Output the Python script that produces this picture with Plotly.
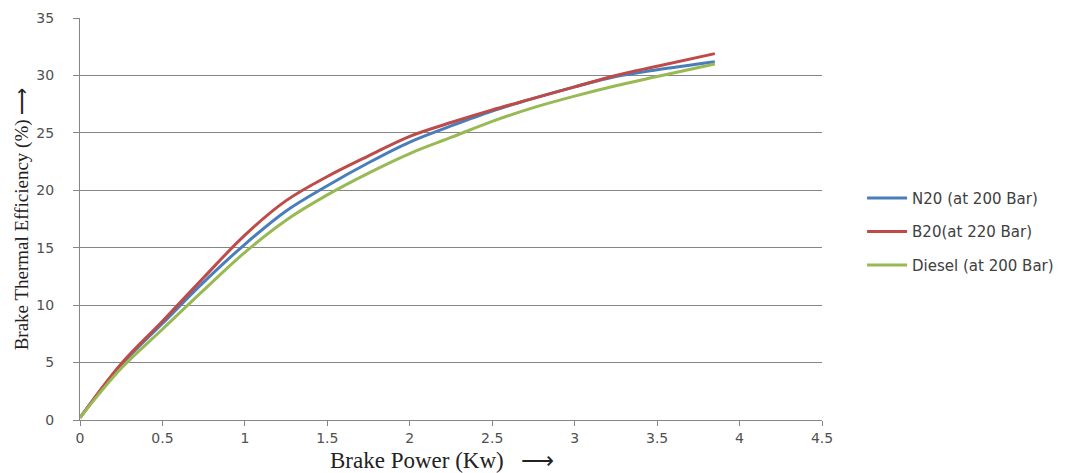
import plotly.graph_objects as go

x_vals = [0, 0.25, 0.5, 0.75, 1.0, 1.25, 1.5, 1.75, 2.0, 2.25, 2.5, 2.75, 3.0, 3.25, 3.5, 3.85]
n20 = [0.2, 4.8, 8.4, 12.0, 15.3, 18.2, 20.4, 22.4, 24.2, 25.6, 26.9, 28.0, 29.0, 29.9, 30.5, 31.2]
b20 = [0.2, 4.9, 8.6, 12.4, 16.1, 19.1, 21.2, 23.0, 24.7, 25.9, 27.0, 28.0, 29.0, 30.0, 30.8, 31.9]
diesel = [0.2, 4.5, 7.9, 11.3, 14.6, 17.4, 19.6, 21.5, 23.2, 24.6, 26.0, 27.2, 28.2, 29.1, 29.9, 31.0]

names = ["N20 (at 200 Bar)", "B20(at 220 Bar)", "Diesel (at 200 Bar)"]
colors = ["#4a7ebb", "#be4b48", "#98b954"]
x_title = "Brake Power (Kw)\u00a0\u00a0\u00a0⟶"
y_title = "Brake Thermal Efficiency (%) ⟶"

fig = go.Figure()
for i, (name, ys, c) in enumerate(zip(names, [n20, b20, diesel], colors)):
    fig.add_trace(go.Scatter(x=x_vals, y=ys, mode="lines", name=name, legendgroup=str(i),
                             line=dict(color=c, width=3, shape="spline", smoothing=1.0)))

axis_font = dict(family="DejaVu Sans", size=14, color="#505050")
fig.update_layout(
    width=1076, height=465,
    margin=dict(l=72, r=262, t=10, b=53),
    paper_bgcolor="white", plot_bgcolor="white",
    legend=dict(x=1.054, y=0.468, xanchor="left", yanchor="middle",
                font=dict(family="DejaVu Sans", size=15, color="#404040"),
                itemwidth=40, tracegroupgap=11),
    xaxis=dict(range=[0, 4.5], tickvals=[0, 0.5, 1, 1.5, 2, 2.5, 3, 3.5, 4, 4.5],
               ticktext=["0", "0.5", "1", "1.5", "2", "2.5", "3", "3.5", "4", "4.5"],
               showgrid=False, zeroline=False, showline=True, linecolor="#868686",
               ticks="outside", ticklen=5, tickcolor="#868686", tickfont=axis_font,
               automargin=False),
    yaxis=dict(range=[0, 35], tickvals=[0, 5, 10, 15, 20, 25, 30, 35],
               showgrid=True, gridcolor="#868686", gridwidth=1, zeroline=False,
               showline=True, linecolor="#868686", automargin=False,
               ticks="outside", ticklen=6, tickcolor="#868686", tickfont=axis_font,
               ticklabelstandoff=16,
               title=dict(text=y_title, standoff=2,
                          font=dict(family="Liberation Serif", size=19, color="#222"))),
    annotations=[dict(text=x_title, xref="paper", yref="paper", x=0.488, y=0,
                      xanchor="center", yanchor="middle", yshift=-40, showarrow=False,
                      font=dict(family="Liberation Serif", size=23, color="#222"))],
)
fig.write_html("out.html")
